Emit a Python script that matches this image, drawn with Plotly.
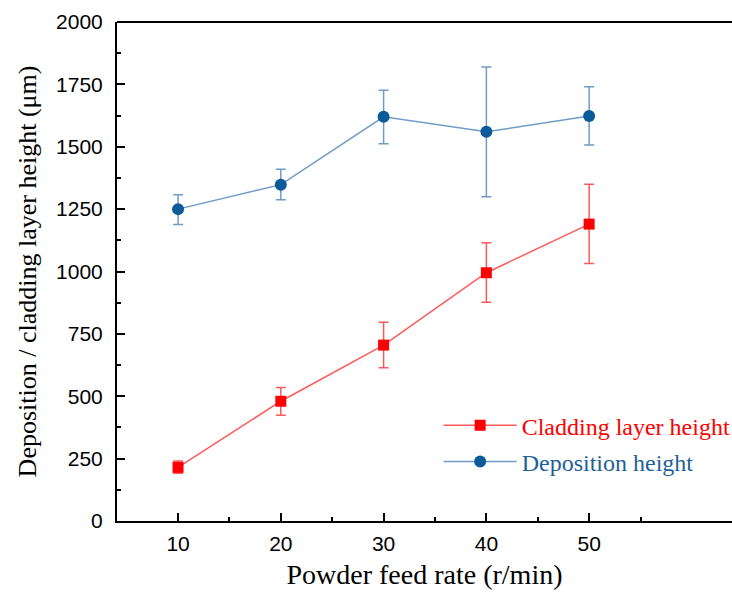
import plotly.graph_objects as go

feed_rate = [10, 20, 30, 40, 50]
cladding = [215, 480, 705, 995, 1190]
cladding_err_plus = [25, 55, 92, 120, 160]
cladding_err_minus = [24, 56, 91, 118, 158]
deposition = [1250, 1348, 1620, 1560, 1623]
deposition_err_plus = [58, 62, 106, 260, 117]
deposition_err_minus = [62, 60, 108, 260, 116]

red_line = "#ff5a5a"
red_mark = "#ff0000"
blue_line = "#6f9cc6"
blue_mark = "#0b5a9a"

fig = go.Figure()
fig.add_trace(go.Scatter(
    x=feed_rate, y=cladding, mode="lines+markers",
    name="<span style='color:#ff0000'>Cladding layer height</span>",
    legendgroup="a",
    line=dict(color=red_line, width=1.5),
    marker=dict(symbol="square", size=11, color=red_mark),
    error_y=dict(type="data", symmetric=False, array=cladding_err_plus,
                 arrayminus=cladding_err_minus, color=red_line, thickness=1.5, width=5),
))
fig.add_trace(go.Scatter(
    x=feed_rate, y=deposition, mode="lines+markers",
    name="<span style='color:#1f5f99'>Deposition height</span>",
    legendgroup="b",
    line=dict(color=blue_line, width=1.5),
    marker=dict(symbol="circle", size=12, color=blue_mark),
    error_y=dict(type="data", symmetric=False, array=deposition_err_plus,
                 arrayminus=deposition_err_minus, color=blue_line, thickness=1.5, width=5),
))

axis_common = dict(
    showline=True, linecolor="black", linewidth=2,
    ticks="inside", ticklen=8, tickwidth=1.5, tickcolor="black",
    showgrid=False, zeroline=False, automargin=False,
    tickfont=dict(family="Liberation Sans, Arial", size=21, color="black"),
)
serif = "Liberation Serif, Times New Roman"

fig.update_xaxes(
    range=[4.06, 63.9], tickvals=[10, 20, 30, 40, 50],
    minor=dict(tickvals=[15, 25, 35, 45, 55], ticks="inside", ticklen=4, tickwidth=1.5, tickcolor="black"),
    ticklabelstandoff=3,
    title=dict(text="Powder feed rate (r/min)", font=dict(family=serif, size=28, color="black"), standoff=10),
    **axis_common,
)
fig.update_yaxes(
    range=[0, 2000], tickvals=[0, 250, 500, 750, 1000, 1250, 1500, 1750, 2000],
    minor=dict(tickvals=[125, 375, 625, 875, 1125, 1375, 1625, 1875], ticks="inside", ticklen=4, tickwidth=1.5, tickcolor="black"),
    ticklabelstandoff=8,
    title=dict(text="Deposition / cladding layer height (μm)", font=dict(family=serif, size=26, color="black"), standoff=12),
    **axis_common,
)

fig.add_shape(type="line", xref="paper", yref="paper", x0=0, x1=1, y0=1, y1=1,
              line=dict(color="black", width=2))

fig.update_layout(
    width=732, height=597,
    margin=dict(l=117, r=0, t=22, b=76, autoexpand=False),
    paper_bgcolor="white", plot_bgcolor="white",
    showlegend=True,
    legend=dict(x=0.523, y=0.236, xanchor="left", yanchor="top",
                bgcolor="rgba(0,0,0,0)", borderwidth=0,
                font=dict(family=serif, size=24),
                itemwidth=73, tracegroupgap=2),
)

fig.write_html("out.html")
